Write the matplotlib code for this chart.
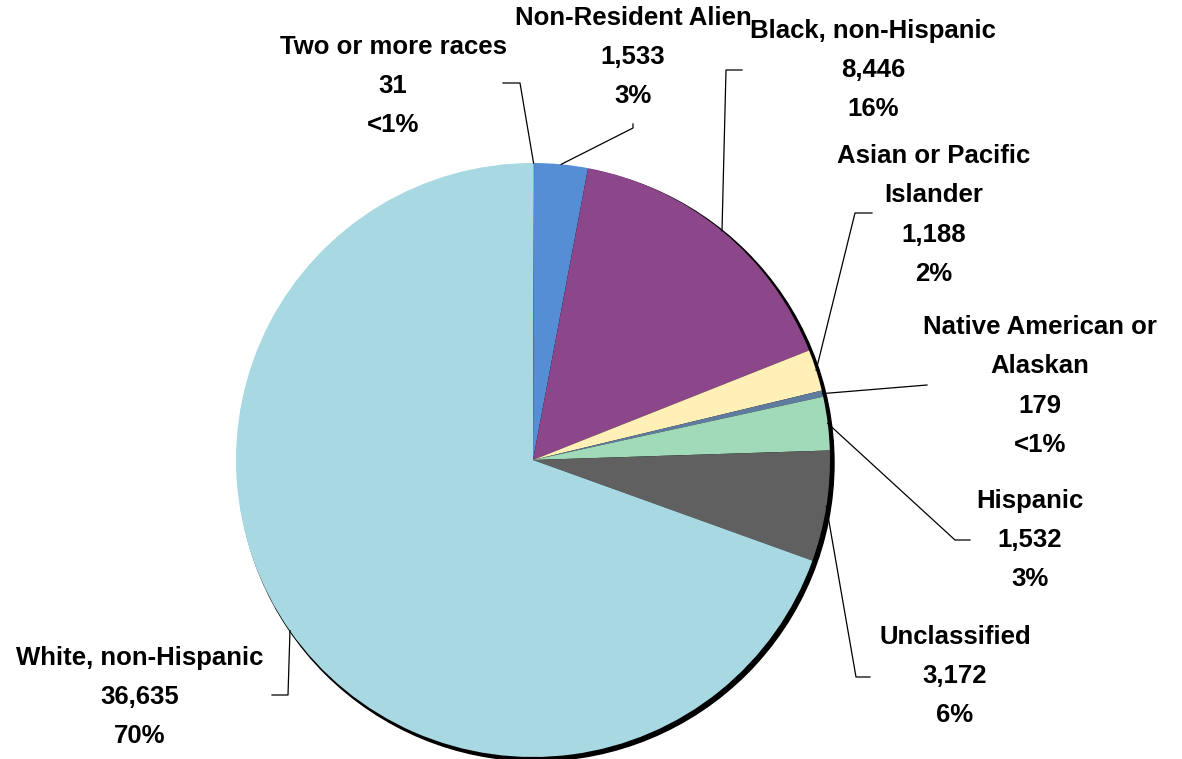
import matplotlib.pyplot as plt
import numpy as np
from matplotlib.patches import Circle

# data
labels = ["Two or more races", "Non-Resident Alien", "Black, non-Hispanic",
          "Asian or Pacific\nIslander", "Native American or\nAlaskan", "Hispanic",
          "Unclassified", "White, non-Hispanic"]
counts = [31, 1533, 8446, 1188, 179, 1532, 3172, 36635]
pct_text = ["<1%", "3%", "16%", "2%", "<1%", "3%", "6%", "70%"]
colors = ["#E8A040", "#558ED5", "#8B4789", "#FFF0B8", "#5F7BA0", "#A0DAB8", "#606060", "#A8D8E2"]

W, H = 1182, 759
fig = plt.figure(figsize=(W / 100, H / 100), dpi=100)
ax = fig.add_axes([0, 0, 1, 1])

cx, cy, R = 533, H - 460, 297

# dark shadow edge on the lower right
ax.add_patch(Circle((cx + 3, cy - 3), R + 1, color="black", zorder=1))

wedges, _ = ax.pie(counts, colors=colors, startangle=90, counterclock=False,
                   radius=R, center=(cx, cy), frame=True,
                   wedgeprops=dict(linewidth=0, zorder=2))
ax.set_xlim(0, W)
ax.set_ylim(0, H)
ax.axis("off")

# label layout in pixel coords (y down): text center, knee, end of leader
layout = [
    ((393, 86), (520, 83), (503, 83)),
    ((633, 57), (633, 128), (633, 124)),
    ((873, 70), (726, 70), (742, 70)),
    ((934, 215), (855, 213), (872, 213)),
    ((1040, 386), (927, 385), (927, 385)),
    ((1030, 540), (955, 540), (970, 540)),
    ((955, 676), (856, 677), (870, 677)),
    ((140, 697), (288, 695), (272, 695)),
]

for w, lab, n, p, (tpos, knee, end) in zip(wedges, labels, counts, pct_text, layout):
    mid = np.deg2rad((w.theta1 + w.theta2) / 2)
    rx = cx + R * np.cos(mid)
    ry = cy + R * np.sin(mid)
    xs = [rx, knee[0], end[0]]
    ys = [ry, H - knee[1], H - end[1]]
    ax.plot(xs, ys, color="black", lw=0.9, zorder=3)
    txt = f"{lab}\n{n:,}\n{p}"
    ax.text(tpos[0], H - tpos[1], txt, ha="center", va="center",
            fontsize=18.5, fontweight="bold", family="Liberation Sans",
            linespacing=1.8, zorder=4)

fig.savefig("out.png", dpi=100)
